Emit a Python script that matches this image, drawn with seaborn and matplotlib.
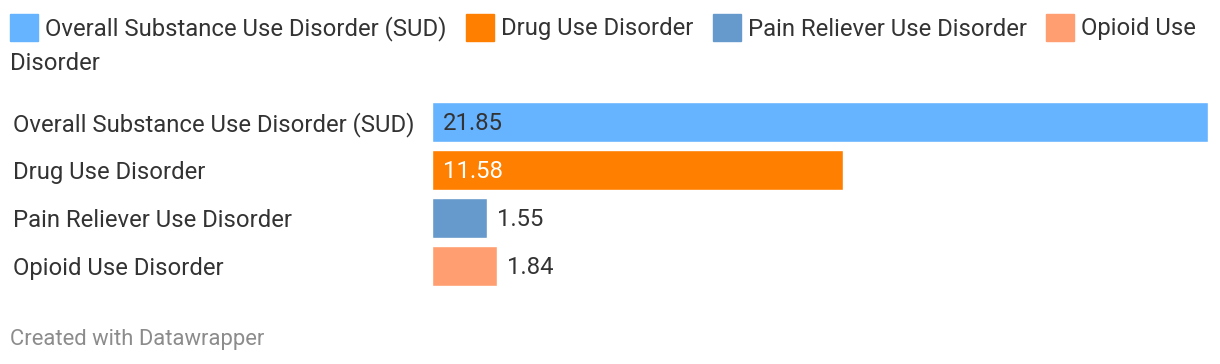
import matplotlib
matplotlib.use('Agg')
import matplotlib.pyplot as plt
import seaborn as sns
import pandas as pd
from matplotlib.patches import Rectangle

categories = ['Overall Substance Use Disorder (SUD)', 'Drug Use Disorder',
              'Pain Reliever Use Disorder', 'Opioid Use Disorder']
values = [21.85, 11.58, 1.55, 1.84]
colors = ['#66b3ff', '#ff7f00', '#6699cc', '#ff9e70']
label_colors = ['#333333', '#ffffff', '#333333', '#333333']

sns.set_style('white')
plt.rcParams['font.family'] = ['Roboto', 'DejaVu Sans']

df = pd.DataFrame({'category': categories, 'value': values})

W, H = 1220, 364
FS = 17.2
fig = plt.figure(figsize=(W / 100, H / 100), dpi=100)
ax = fig.add_axes([432 / W, 1 - 290 / H, (1208 - 432) / W, 192 / H])

sns.barplot(data=df, x='value', y='category', hue='category', palette=colors,
            orient='h', width=0.83, dodge=False, legend=False, ax=ax,
            saturation=1)

ax.set_xlim(0, max(values))
ax.set_ylim(3.5, -0.5)
ax.set_xlabel('')
ax.set_ylabel('')
ax.set_xticks([])
for s in ax.spines.values():
    s.set_visible(False)

ax.tick_params(axis='y', length=0, pad=302, labelsize=FS, labelcolor='#333333')
for t in ax.get_yticklabels():
    t.set_horizontalalignment('left')

# value labels: inside wide bars, outside narrow ones
for i, v in enumerate(values):
    if v > 5:
        ax.annotate(f'{v:.2f}', xy=(0, i), xytext=(8, -1.2), textcoords='offset points',
                    va='center', ha='left', fontsize=FS, color=label_colors[i])
    else:
        ax.annotate(f'{v:.2f}', xy=(v, i), xytext=(7, -1.2), textcoords='offset points',
                    va='center', ha='left', fontsize=FS, color='#333333')

# legend, laid out by hand so it wraps like the original
fig.canvas.draw()
renderer = fig.canvas.get_renderer()
x = 10
for c, lab in zip(colors, categories):
    t = fig.text(0, 0, lab, fontsize=FS, color='#333333', va='center', ha='left')
    w = t.get_window_extent(renderer).width
    t.remove()
    fig.patches.append(Rectangle((x / W, 1 - 41 / H), 28 / W, 27 / H,
                                 transform=fig.transFigure, color=c))
    if x + 35 + w > W - 10:
        # wrap the last word onto a second line
        parts = lab.split(' ')
        first, rest = ' '.join(parts[:-1]), parts[-1]
        fig.text((x + 35) / W, 1 - 29 / H, first, fontsize=FS, color='#333333',
                 va='center', ha='left')
        fig.text(10 / W, 1 - 64 / H, rest, fontsize=FS, color='#333333',
                 va='center', ha='left')
    else:
        fig.text((x + 35) / W, 1 - 29 / H, lab, fontsize=FS, color='#333333',
                 va='center', ha='left')
    x = x + 35 + w + 19.5

fig.text(10 / W, 1 - 340 / H, 'Created with Datawrapper', fontsize=15.8,
         color='#8c8c8c', va='center', ha='left')

fig.savefig('out.png', dpi=100)
